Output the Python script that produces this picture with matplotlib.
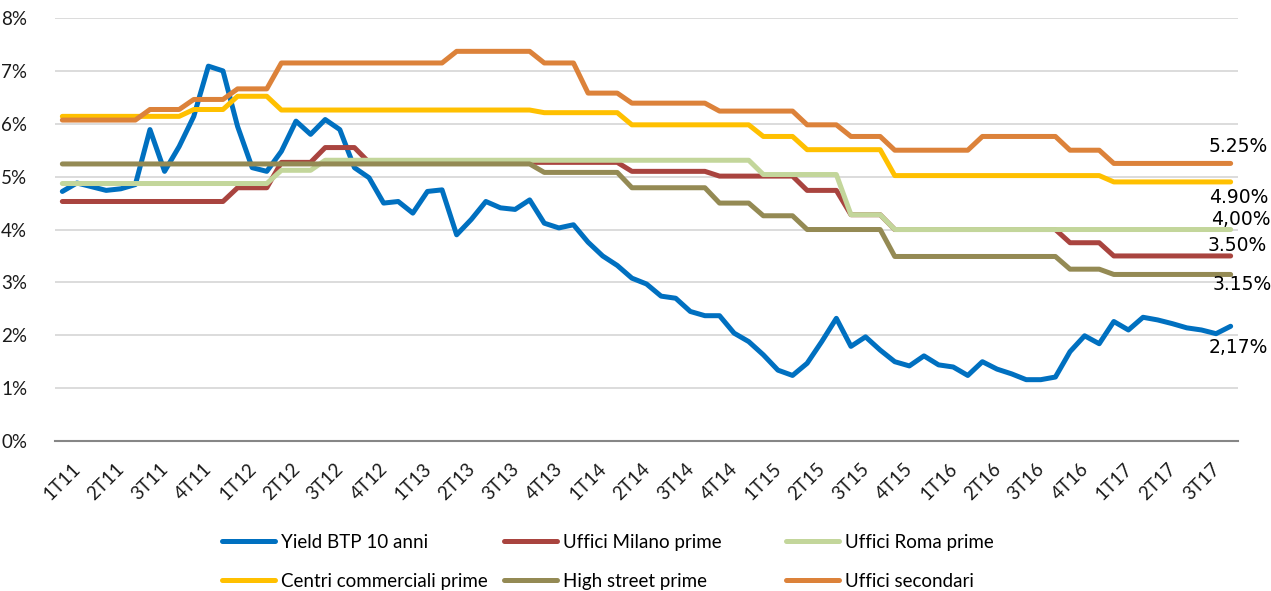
import matplotlib
matplotlib.use("Agg")
import matplotlib.pyplot as plt
import numpy as np

# Quarter labels on the category axis (one every three months)
quarters = [f"{q}T{y}" for y in range(11, 18) for q in range(1, 5)][:27]

# 10-year BTP yield, monthly (%)
btp_yield = [4.72, 4.88, 4.81, 4.74, 4.77, 4.85, 5.89, 5.10, 5.57, 6.14,
             7.09, 7.00, 5.95, 5.17, 5.10, 5.48, 6.05, 5.80, 6.08, 5.89,
             5.17, 4.98, 4.50, 4.53, 4.31, 4.72, 4.75, 3.90, 4.19, 4.53,
             4.41, 4.38, 4.56, 4.12, 4.03, 4.09, 3.76, 3.50, 3.32, 3.08,
             2.97, 2.74, 2.70, 2.45, 2.37, 2.37, 2.04, 1.88, 1.63, 1.34,
             1.24, 1.47, 1.88, 2.32, 1.79, 1.97, 1.72, 1.50, 1.42, 1.61,
             1.44, 1.40, 1.24, 1.50, 1.36, 1.27, 1.16, 1.16, 1.21, 1.69,
             1.99, 1.84, 2.26, 2.10, 2.34, 2.29, 2.22, 2.14, 2.10, 2.03,
             2.17]

# Real estate yields, quarterly (%)
milano_prime = [4.53, 4.53, 4.53, 4.53, 4.79, 5.27, 5.55, 5.27, 5.27, 5.27,
                5.27, 5.27, 5.27, 5.10, 5.10, 5.01, 5.01, 4.74, 4.28, 4.00,
                4.00, 4.00, 4.00, 3.75, 3.50, 3.50, 3.50]
roma_prime = [4.87, 4.87, 4.87, 4.87, 4.87, 5.12, 5.31, 5.31, 5.31, 5.31,
              5.31, 5.31, 5.31, 5.31, 5.31, 5.31, 5.04, 5.04, 4.28, 4.00,
              4.00, 4.00, 4.00, 4.00, 4.00, 4.00, 4.00]
centri_comm = [6.14, 6.14, 6.14, 6.27, 6.52, 6.26, 6.26, 6.26, 6.26, 6.26,
               6.26, 6.21, 6.21, 5.98, 5.98, 5.98, 5.76, 5.51, 5.51, 5.02,
               5.02, 5.02, 5.02, 5.02, 4.90, 4.90, 4.90]
high_street = [5.24, 5.24, 5.24, 5.24, 5.24, 5.24, 5.24, 5.24, 5.24, 5.24,
               5.24, 5.08, 5.08, 4.79, 4.79, 4.50, 4.26, 4.00, 4.00, 3.49,
               3.49, 3.49, 3.49, 3.25, 3.15, 3.15, 3.15]
uffici_sec = [6.07, 6.07, 6.27, 6.46, 6.66, 7.15, 7.15, 7.15, 7.15, 7.37,
              7.37, 7.15, 6.58, 6.39, 6.39, 6.24, 6.24, 5.98, 5.76, 5.50,
              5.50, 5.76, 5.76, 5.50, 5.25, 5.25, 5.25]

names = ["Yield BTP 10 anni", "Uffici Milano prime", "Uffici Roma prime",
         "Centri commerciali prime", "High street prime", "Uffici secondari"]
colors = ["#0070C0", "#A9443F", "#C3D69B", "#FFC000", "#948A54", "#DC823A"]

# quarterly values hold for each month of the quarter
series = [np.array(btp_yield)] + [np.repeat(q, 3) for q in
          (milano_prime, roma_prime, centri_comm, high_street, uffici_sec)]

# end-of-series labels: decimal separator and offset in pixels (y up)
label_style = [(",", 8, -21), (".", 7, 10), (",", 10, 10),
               (".", 8, -16), (".", 12, -10), (".", 8, 17)]

fig = plt.figure(figsize=(12.71, 5.91), dpi=100)
ax = fig.add_axes([0.0433, 0.2538, 0.9307, 0.7157])

x = np.arange(len(btp_yield))
lines = []
for y, name, c in zip(series, names, colors):
    ln, = ax.plot(x, y, color=c, lw=3.6, solid_capstyle="round",
                  solid_joinstyle="round", label=name)
    lines.append(ln)

for y, c, (sep, dx, dy) in zip(series, colors, label_style):
    txt = f"{y[-1]:.2f}%".replace(".", sep)
    ax.annotate(txt, (x[-1], y[-1]), xytext=(dx, dy), textcoords="offset pixels",
                ha="center", va="center", fontsize=13.5, family="DejaVu Sans",
                color="#000000", annotation_clip=False)

ax.set_xlim(-0.5, len(btp_yield) - 0.5)
ax.set_ylim(0, 8)
ax.set_yticks(range(0, 9))
ax.set_yticklabels([f"{v}%" for v in range(0, 9)])
ax.set_xticks(np.arange(0, len(btp_yield), 3))
ax.set_xticklabels(quarters, rotation=45, ha="center", va="top")

for lab in ax.get_xticklabels() + ax.get_yticklabels():
    lab.set_family("Lato")
    lab.set_fontsize(13.5)
    lab.set_color("#1a1a1a")
ax.tick_params(axis="y", length=0, pad=20)
ax.tick_params(axis="x", length=0, pad=14)

ax.grid(axis="y", color="#D9D9D9", lw=1.3)
ax.set_axisbelow(True)
for s in ("left", "right", "top"):
    ax.spines[s].set_visible(False)
ax.spines["bottom"].set_color("#868686")
ax.spines["bottom"].set_linewidth(1.5)

# legend laid out as three equal-width columns
col_x = [222, 504, 786]
for k, cx in enumerate(col_x):
    handles = [lines[k], lines[k + 3]]
    fig.legend(handles, [h.get_label() for h in handles],
               loc="upper left", bbox_to_anchor=(cx / 1271, 1 - 534 / 591),
               frameon=False, borderpad=0, borderaxespad=0,
               handlelength=2.85, handletextpad=0.32, labelspacing=1.17,
               prop={"family": "Lato", "size": 13.5})

fig.savefig("out.png", dpi=100)
